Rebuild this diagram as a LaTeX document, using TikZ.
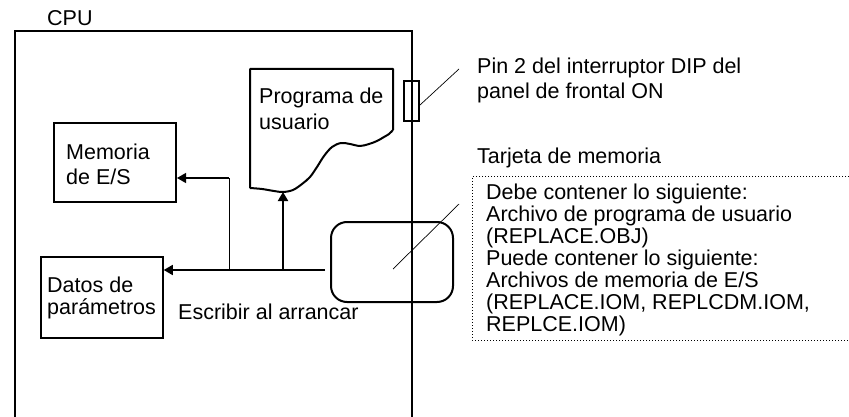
\documentclass[tikz,border=0pt]{standalone}
\usepackage{fontspec}
\setmainfont{Liberation Sans}
\usetikzlibrary{arrows.meta}
\begin{document}
\begin{tikzpicture}[x=1pt,y=-1pt,
  txt/.style={anchor=base west, inner sep=0pt, align=left, font=\fontsize{21.5}{22}\selectfont},
  txtwide/.style={txt, font=\fontsize{21.5}{25}\selectfont},
  box/.style={draw, line width=2pt, inner sep=0pt},
  arr/.style={-{Triangle[length=9pt,width=10pt]}},
  leader/.style={line width=0.7pt},
]
\useasboundingbox (0,0) rectangle (849,417);
% CPU enclosure
\draw[line width=2pt] (15,425) -- (15,31) -- (412,31) -- (412,425);
\node[txt] (cpu) at (47,26) {CPU};
% boxes
\node[box, minimum width=122pt, minimum height=79pt] (mem) at (115,162.5) {};
\node[txtwide] (memt) at (66,185) {Memoria\\de E/S};
\node[box, line width=1.5pt, minimum width=122pt, minimum height=81pt] (datos) at (102,297.5) {};
\node[txt] (datost) at (47,314) {Datos de\\parámetros};
% program sheet
\draw[line width=2pt, line join=round] (393,130) -- (393,69) -- (250,69) -- (250,188)
  plot[smooth, tension=0.55] coordinates {(250,188) (262,189) (274,191) (283,192) (293,190) (302,184) (310,177) (317,167) (324,156) (332,147) (341,143) (350,144) (360,146) (369,144) (377,141) (384,137) (389,134) (393,130)};
\coordinate (pb) at (283,192);
\node[txtwide, font=\fontsize{21.5}{26}\selectfont] (progt) at (259,130) {Programa de\\usuario};
% memory card and DIP switch
\node[box, rounded corners=16pt, minimum width=122pt, minimum height=80pt] (card) at (392,262) {};
\node[box, line width=1.5pt, minimum width=15pt, minimum height=40pt] (dip) at (411.5,101) {};
% connectors
\coordinate (j0) at (325,270);
\coordinate (j1) at (229,270);
\coordinate (j2) at (283,270);
\coordinate (m1) at (229,178);
\draw[arr, line width=1.6pt] (j0) -- (datos.east |- j0);
\draw[line width=1pt] (j1) -- (m1);
\draw[arr, line width=1.2pt] (m1) -- (mem.east |- m1);
\draw[arr, line width=2pt] (j2) -- (pb);
\node[txt] (esc) at (178,319) {Escribir al arrancar};
% leaders
\coordinate (dipl) at (459,69);
\coordinate (cardl) at (459,204);
\draw[leader] (420,105) -- (dipl);
\draw[leader] (393,269) -- (cardl);
\node[txtwide] (pin) at (477,99) {Pin 2 del interruptor DIP del\\panel de frontal ON};
\node[txt] (tarj) at (477,164) {Tarjeta de memoria};
% card contents
\draw[line width=1pt, dash pattern=on 1pt off 2pt] (849,177) -- (472,177) -- (472,340) -- (849,340);
\node[txt] (info) at (486,331) {Debe contener lo siguiente:\\Archivo de programa de usuario\\(REPLACE.OBJ)\\Puede contener lo siguiente:\\Archivos de memoria de E/S\\(REPLACE.IOM, REPLCDM.IOM,\\REPLCE.IOM)};
\end{tikzpicture}
\end{document}
